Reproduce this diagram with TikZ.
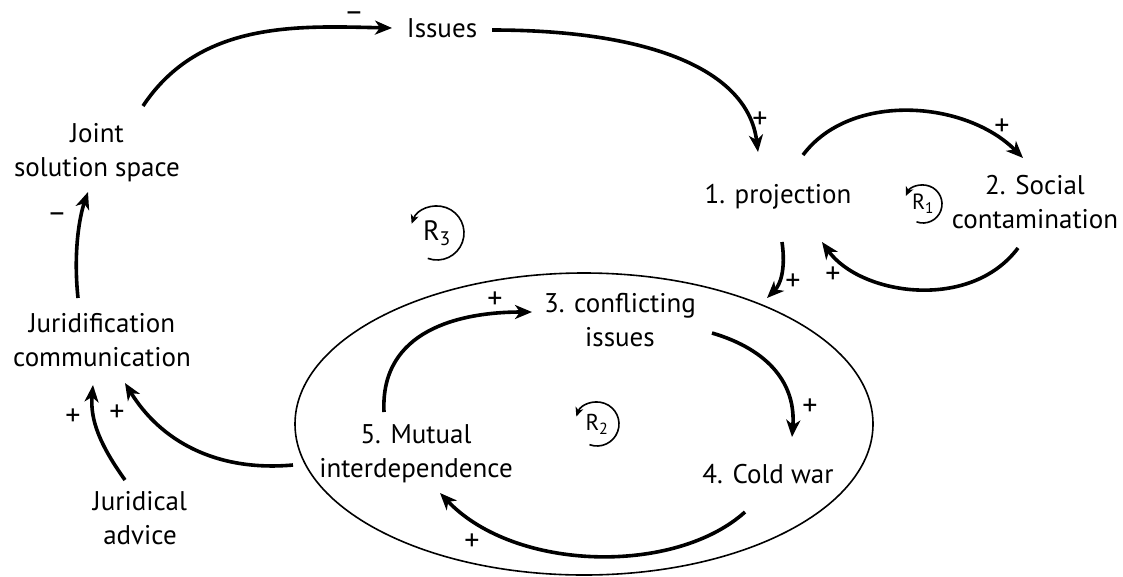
\documentclass[tikz,border=0pt]{standalone}
\usepackage{fontspec}
\setmainfont{PT Sans}
\usetikzlibrary{arrows.meta}
\begin{document}
\begin{tikzpicture}[x=1pt,y=-1pt,
  lbl/.style={font=\fontsize{27}{34}\selectfont, align=center, inner sep=0pt},
  sgn/.style={font=\fontsize{30}{30}\selectfont, inner sep=0pt},
  link/.style={line width=3.6pt, -{Stealth[length=17pt,width=14pt,inset=5pt]}},
  loopc/.style={line width=1.6pt, -{Stealth[length=9pt,width=8pt,inset=2.5pt]}},
  rlab/.style={font=\fontsize{28}{28}\selectfont, inner sep=0pt}]
\useasboundingbox (0,0) rectangle (1123,576);
% ellipse
\draw[line width=1.6pt] (584,424) ellipse [x radius=289pt, y radius=151pt];
% nodes
\node[lbl] (issues) at (442,28) {Issues};
\node[lbl] (joint) at (97,153) {Joint\\solution space};
\node[lbl] (proj) at (778,197) {1. projection};
\node[lbl] (social) at (1035,202) {2. Social\\contamination};
\node[lbl] (confl) at (620,320) {3. conflicting\\issues};
\node[lbl] (cold) at (768,474) {4. Cold war};
\node[lbl] (mutual) at (416,454) {5. Mutual\\interdependence};
\node[lbl] (jurid) at (102,340) {Juridification\\communication};
\node[lbl] (advice) at (140,518) {Juridical\\advice};
% connector endpoints
\coordinate (a1) at (143,106); \coordinate (b1) at (392,28);
\coordinate (a2) at (492,30);  \coordinate (b2) at (758,152);
\coordinate (a3) at (803,155); \coordinate (b3) at (1023,158);
\coordinate (a4) at (1018,248);\coordinate (b4) at (822,242);
\coordinate (a5) at (782,242); \coordinate (b5) at (767,298);
\coordinate (a6) at (712,333); \coordinate (b6) at (792,437);
\coordinate (a7) at (745,512); \coordinate (b7) at (440,493);
\coordinate (a8) at (384,412); \coordinate (b8) at (532,312);
\coordinate (a9) at (293,465); \coordinate (b9) at (125,383);
\coordinate (a10) at (125,480);\coordinate (b10) at (93,385);
\coordinate (a11) at (78,298); \coordinate (b11) at (88,192);
% connectors
\draw[link] (a1) .. controls (200,20) and (300,26) .. (b1);
\draw[link] (a2) .. controls (650,30) and (748,70) .. (b2);
\draw[link] (a3) .. controls (850,92) and (965,100) .. (b3);
\draw[link] (a4) .. controls (970,312) and (860,295) .. (b4);
\draw[link] (a5) .. controls (786,270) and (780,285) .. (b5);
\draw[link] (a6) .. controls (770,350) and (796,385) .. (b6);
\draw[link] (a7) .. controls (675,575) and (515,572) .. (b7);
\draw[link] (a8) .. controls (380,330) and (460,312) .. (b8);
\draw[link] (a9) .. controls (215,472) and (160,440) .. (b9);
\draw[link] (a10) .. controls (100,445) and (90,420) .. (b10);
\draw[link] (a11) .. controls (73,250) and (80,215) .. (b11);
% signs
\node[sgn, text height=11pt, text depth=0pt, anchor=base] (s1) at (354,21) {–};
\node[sgn] (s2) at (760,120) {+};
\node[sgn] (s3) at (1002,127) {+};
\node[sgn] (s4) at (833,275) {+};
\node[sgn] (s5) at (793,282) {+};
\node[sgn] (s6) at (810,407) {+};
\node[sgn] (s7) at (472,542) {+};
\node[sgn] (s8) at (495,300) {+};
\node[sgn] (s9) at (117,413) {+};
\node[sgn] (s10) at (73,417) {+};
\node[sgn] (s11) at (57,218) {–};
% loop markers
\node[rlab] (r3) at (437,233) {R\textsubscript{3}};
\draw[loopc] (r3.center) ++(110:27) arc[start angle=110, end angle=-160, radius=27];
\node[rlab, font=\fontsize{22}{22}\selectfont] (r1) at (923,204) {R\textsubscript{1}};
\draw[loopc] (r1.center) ++(110:19) arc[start angle=110, end angle=-155, radius=19];
\node[rlab, font=\fontsize{23}{23}\selectfont] (r2) at (597,424) {R\textsubscript{2}};
\draw[loopc] (r2.center) ++(110:22) arc[start angle=110, end angle=-160, radius=22];
\end{tikzpicture}
\end{document}
